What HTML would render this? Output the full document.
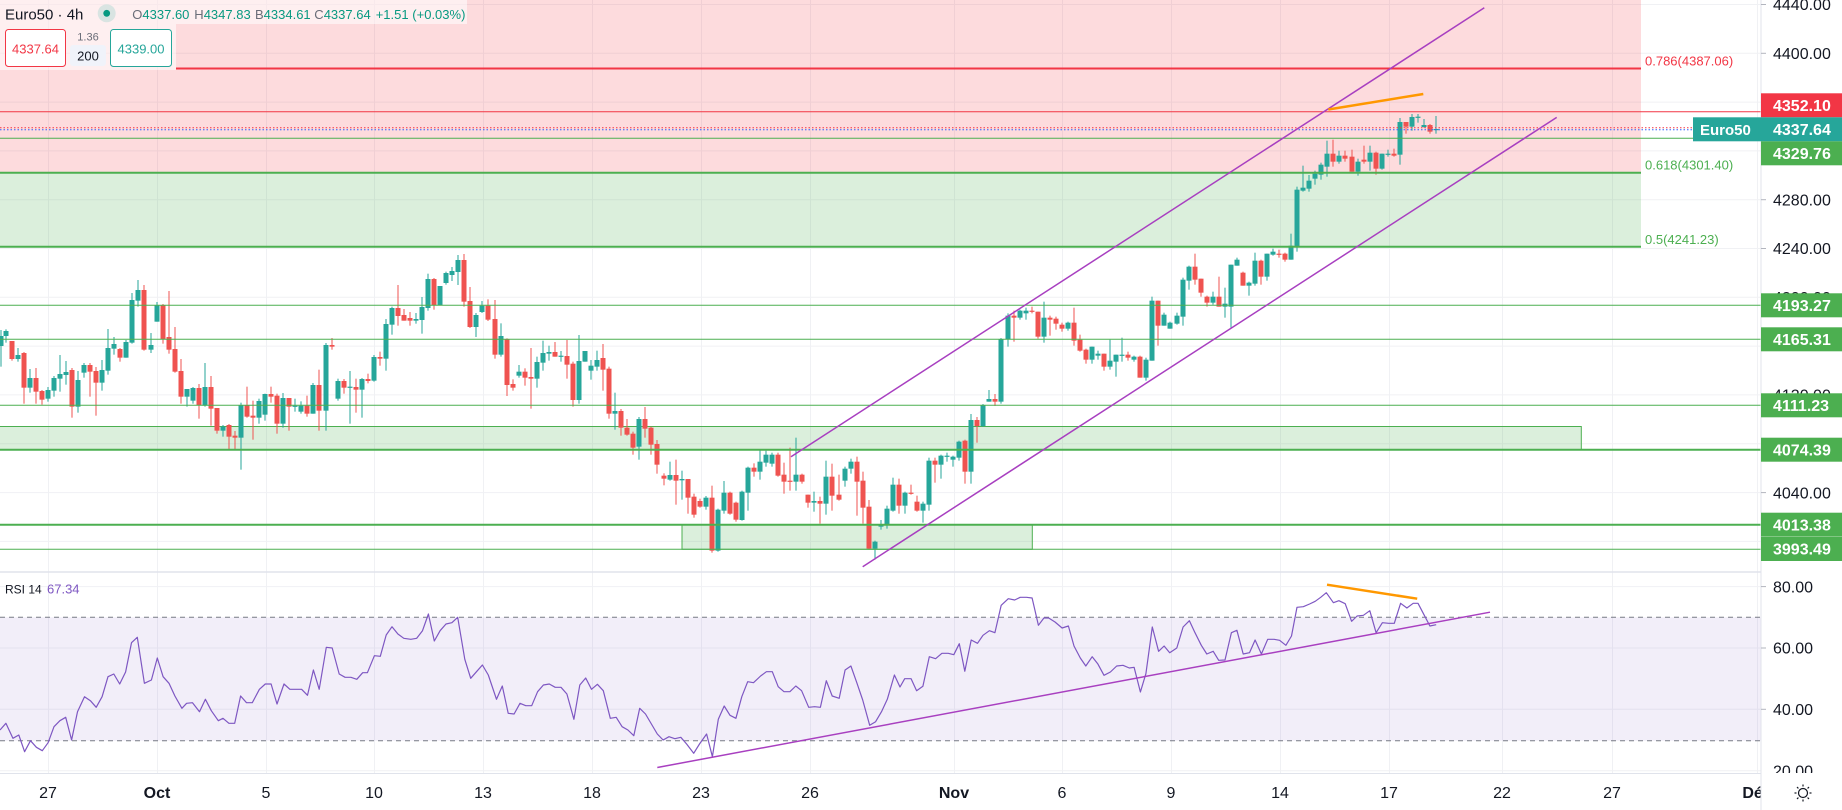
<!DOCTYPE html>
<html><head><meta charset="utf-8">
<style>
html,body{margin:0;padding:0;background:#fff;}
svg{display:block;font-family:"Liberation Sans",sans-serif;}
</style></head>
<body>
<svg id="s" xmlns="http://www.w3.org/2000/svg" width="1842" height="810" viewBox="0 0 1842 810">
<rect x="0" y="0" width="1842" height="810" fill="#ffffff"/>
<g id="grid" stroke="#f0f1f4" stroke-width="1"></g>
<!-- fib zones -->
<rect x="0" y="0" width="1641" height="172.7" fill="rgba(242,54,69,0.18)"/>
<rect x="0" y="172.7" width="1641" height="74" fill="rgba(76,175,80,0.2)"/>
<!-- RSI band -->
<rect x="0" y="617.3" width="1761" height="123.4" fill="rgba(126,87,194,0.1)"/>
<line x1="0" y1="617.3" x2="1761" y2="617.3" stroke="#787b86" stroke-width="1" stroke-dasharray="5,4"/>
<line x1="0" y1="740.7" x2="1761" y2="740.7" stroke="#787b86" stroke-width="1" stroke-dasharray="5,4"/>
<!-- green boxes -->
<rect x="-1" y="426.5" width="1582.3" height="23.2" fill="rgba(76,175,80,0.2)" stroke="#4caf50" stroke-width="1"/>
<rect x="682" y="524.7" width="350.3" height="24.6" fill="rgba(76,175,80,0.2)" stroke="#4caf50" stroke-width="1"/>
<g id="candles"></g>
<!-- horizontal levels -->
<g fill="none">
<line x1="176" y1="68.5" x2="1641" y2="68.5" stroke="#f23645" stroke-width="2"/>
<line x1="0" y1="111.7" x2="1761" y2="111.7" stroke="#f23645" stroke-width="1"/>
<line x1="0" y1="138.3" x2="1761" y2="138.3" stroke="#4caf50" stroke-width="1"/>
<line x1="0" y1="172.7" x2="1641" y2="172.7" stroke="#4caf50" stroke-width="2"/>
<line x1="0" y1="246.7" x2="1641" y2="246.7" stroke="#4caf50" stroke-width="2"/>
<line x1="0" y1="305.3" x2="1761" y2="305.3" stroke="#4caf50" stroke-width="1"/>
<line x1="0" y1="339.3" x2="1761" y2="339.3" stroke="#4caf50" stroke-width="1"/>
<line x1="0" y1="405.3" x2="1761" y2="405.3" stroke="#4caf50" stroke-width="1"/>
<line x1="0" y1="449.7" x2="1761" y2="449.7" stroke="#4caf50" stroke-width="2"/>
<line x1="0" y1="524.7" x2="1761" y2="524.7" stroke="#4caf50" stroke-width="2"/>
<line x1="0" y1="549.3" x2="1761" y2="549.3" stroke="#4caf50" stroke-width="1"/>
<line x1="0" y1="127.7" x2="1693" y2="127.7" stroke="#f23645" stroke-width="1" stroke-dasharray="1.5,2"/>
<line x1="0" y1="129.7" x2="1693" y2="129.7" stroke="#2962ff" stroke-width="1" stroke-dasharray="1.5,2"/>
</g>
<!-- fib labels -->
<g font-size="13">
<text x="1645" y="65.5" fill="#f23645">0.786(4387.06)</text>
<text x="1645" y="169.5" fill="#4caf50">0.618(4301.40)</text>
<text x="1645" y="244" fill="#4caf50">0.5(4241.23)</text>
</g>
<!-- channel -->
<g stroke="#a83fc0" stroke-width="1.5" fill="none">
<line x1="791" y1="456.7" x2="1484.3" y2="7.8"/>
<line x1="862.7" y1="566.7" x2="1556.7" y2="117.4"/>
</g>
<line x1="1328.3" y1="109.5" x2="1423.3" y2="94" stroke="#ff9800" stroke-width="2.5"/>
<!-- RSI -->
<polyline id="rsi" fill="none" stroke="#7e57c2" stroke-width="1.2" stroke-linejoin="round"/>
<line x1="657.3" y1="767.5" x2="1490" y2="612.2" stroke="#a83fc0" stroke-width="1.5"/>
<line x1="1327" y1="584.7" x2="1417.2" y2="598.7" stroke="#ff9800" stroke-width="2.5"/>
<!-- separators -->
<line x1="0" y1="572" x2="1842" y2="572" stroke="#e0e3eb" stroke-width="1.5"/>
<rect x="1761" y="0" width="81" height="810" fill="#ffffff"/>
<rect x="0" y="773.5" width="1761" height="37" fill="#ffffff"/>
<line x1="0" y1="773.5" x2="1761" y2="773.5" stroke="#e0e3eb" stroke-width="1"/>
<line x1="1761" y1="0" x2="1761" y2="810" stroke="#e0e3eb" stroke-width="1"/>
<!-- time labels -->
<g font-size="16" fill="#131722" text-anchor="middle">
<text x="48" y="798">27</text>
<text x="157" y="798" font-weight="bold">Oct</text>
<text x="266" y="798">5</text>
<text x="374" y="798">10</text>
<text x="483" y="798">13</text>
<text x="592" y="798">18</text>
<text x="701" y="798">23</text>
<text x="810" y="798">26</text>
<text x="954" y="798" font-weight="bold">Nov</text>
<text x="1062" y="798">6</text>
<text x="1171" y="798">9</text>
<text x="1280" y="798">14</text>
<text x="1389" y="798">17</text>
<text x="1502" y="798">22</text>
<text x="1612" y="798">27</text>
<text x="1757" y="798" font-weight="bold">Déc</text>
</g>
<rect x="1761.5" y="774" width="80.5" height="36" fill="#ffffff"/>
<line x1="1761" y1="0" x2="1761" y2="810" stroke="#e0e3eb" stroke-width="1"/>
<!-- price axis ticks -->
<g id="ptick" font-size="16" fill="#131722"></g>
<!-- RSI axis labels -->
<clipPath id="rc"><rect x="1761" y="573" width="81" height="200"/></clipPath>
<g font-size="16" fill="#131722" clip-path="url(#rc)">
<text x="1773" y="592.3">80.00</text>
<text x="1773" y="653.7">60.00</text>
<text x="1773" y="715">40.00</text>
<text x="1773" y="776.4">20.00</text>
</g>
<g stroke="#b2b5be" stroke-width="1">
<line x1="1761" y1="586.6" x2="1766" y2="586.6"/>
<line x1="1761" y1="648" x2="1766" y2="648"/>
<line x1="1761" y1="709.3" x2="1766" y2="709.3"/>
</g>
<!-- price boxes -->
<g font-size="16" font-weight="bold" fill="#ffffff">
<rect x="1761" y="93.3" width="81" height="24" fill="#f23645"/><text x="1773" y="111">4352.10</text>
<rect x="1761" y="117.3" width="81" height="24" fill="#26a69a"/><text x="1773" y="135">4337.64</text>
<rect x="1693" y="117.3" width="68" height="24" fill="#26a69a"/><text x="1700" y="135" font-size="15">Euro50</text>
<rect x="1761" y="141.3" width="81" height="24" fill="#4caf50"/><text x="1773" y="159">4329.76</text>
<rect x="1761" y="293.3" width="81" height="24" fill="#4caf50"/><text x="1773" y="311">4193.27</text>
<rect x="1761" y="327.3" width="81" height="24" fill="#4caf50"/><text x="1773" y="345">4165.31</text>
<rect x="1761" y="393.3" width="81" height="24" fill="#4caf50"/><text x="1773" y="411">4111.23</text>
<rect x="1761" y="437.7" width="81" height="24" fill="#4caf50"/><text x="1773" y="455.4">4074.39</text>
<rect x="1761" y="512.7" width="81" height="24" fill="#4caf50"/><text x="1773" y="530.4">4013.38</text>
<rect x="1761" y="537" width="81" height="24" fill="#4caf50"/><text x="1773" y="554.7">3993.49</text>
</g>
<!-- settings icon -->
<g stroke="#131722" stroke-width="1.2" fill="none">
<circle cx="1803" cy="793" r="4.5"/>
<line x1="1803" y1="784.5" x2="1803" y2="786.5"/><line x1="1803" y1="799.5" x2="1803" y2="801.5"/>
<line x1="1794.5" y1="793" x2="1796.5" y2="793"/><line x1="1809.5" y1="793" x2="1811.5" y2="793"/>
<line x1="1797" y1="787" x2="1798.4" y2="788.4"/><line x1="1807.6" y1="797.6" x2="1809" y2="799"/>
<line x1="1809" y1="787" x2="1807.6" y2="788.4"/><line x1="1798.4" y1="797.6" x2="1797" y2="799"/>
</g>
<!-- legend -->
<rect x="0" y="0" width="467" height="24" fill="rgba(255,255,255,0.55)"/>
<rect x="0" y="24" width="176" height="46" fill="rgba(255,255,255,0.55)"/>
<text x="5" y="19.3" font-size="15" fill="#131722">Euro50 · 4h</text>
<circle cx="106.7" cy="13.3" r="9" fill="#d9e4e2"/>
<circle cx="106.7" cy="13.3" r="3.4" fill="#089981"/>
<g font-size="13" fill="#089981">
<text x="132.3" y="18.8"><tspan fill="#6a6d78">O</tspan>4337.60</text>
<text x="194.3" y="18.8"><tspan fill="#6a6d78">H</tspan>4347.83</text>
<text x="255" y="18.8"><tspan fill="#6a6d78">B</tspan>4334.61</text>
<text x="314.3" y="18.8"><tspan fill="#6a6d78">C</tspan>4337.64</text>
<text x="375.7" y="18.8">+1.51</text>
<text x="412.3" y="18.8">(+0.03%)</text>
</g>
<rect x="5.5" y="29.5" width="60" height="37" rx="3" fill="#ffffff" stroke="#f23645" stroke-width="1"/>
<text x="35.5" y="53.5" font-size="13" fill="#f23645" text-anchor="middle">4337.64</text>
<text x="88" y="40.5" font-size="11" fill="#6a6d78" text-anchor="middle">1.36</text>
<rect x="70" y="45" width="36" height="21" rx="3" fill="#f0f3fa"/>
<text x="88" y="60.3" font-size="13" fill="#131722" text-anchor="middle">200</text>
<rect x="110.5" y="29.5" width="61" height="37" rx="3" fill="#ffffff" stroke="#26a69a" stroke-width="1"/>
<text x="141" y="53.5" font-size="13" fill="#26a69a" text-anchor="middle">4339.00</text>
<text x="5" y="593.5" font-size="12" fill="#131722">RSI 14</text>
<text x="47" y="593.5" font-size="13" fill="#7e57c2">67.34</text>
</svg>
<script>
(function(){
var NS='http://www.w3.org/2000/svg';
function add(p,t,a){var e=document.createElementNS(NS,t);for(var k in a)e.setAttribute(k,a[k]);p.appendChild(e);return e;}
// grid
var g=document.getElementById('grid');
var vx=[48,157,266,374,483,592,701,810,954,1062,1171,1280,1389,1502,1612,1757];
vx.forEach(function(x){add(g,'line',{x1:x+0.5,y1:0,x2:x+0.5,y2:773});});
var hy=[4.5,53.3,102.1,150.9,199.7,248.5,297.3,346.1,394.9,443.8,492.6,541.4];
hy.forEach(function(y){add(g,'line',{x1:0,y1:y,x2:1761,y2:y});});
[586.6,648,709.3,770.7].forEach(function(y){add(g,'line',{x1:0,y1:y,x2:1761,y2:y});});
// price tick labels (hidden ones omitted)
var pt=document.getElementById('ptick');
var pv=['4440.00','4400.00','','','4280.00','4240.00','4200.00','','4120.00','4080.00','4040.00',''];
hy.forEach(function(y,i){
 add(pt,'line',{x1:1761,y1:y,x2:1766,y2:y,stroke:'#b2b5be','stroke-width':1});
 if(pv[i]){var t=add(pt,'text',{x:1773,y:(y+5.7).toFixed(1)});t.textContent=pv[i];}
});
// candles
var Z5=[[3,1,288,318,270,380],[19,1,273,288,268,308],[37,0,303,357,303,362],[55,1,345,357,324,365],[73,0,339,443,336,491],[91,1,414,443,387,458],[109,0,414,455,384,491],[127,0,453,479,450,494],[145,1,450,476,441,485],[163,1,414,452,408,470],[181,1,402,416,345,455],[199,1,396,405,363,434],[217,0,390,500,384,533],[235,1,420,500,393,518],[253,1,375,398,369,413],[271,0,375,395,369,470],[289,0,393,428,381,527],[307,1,390,428,360,452],[325,1,324,392,267,404],[343,1,312,326,291,344],[361,0,327,353,324,365],[379,1,306,353,300,353],[397,1,180,308,159,311],[415,1,150,182,120,200],[433,0,150,329,135,332],[454,1,315,329,279,339],[472,1,195,245,186,245],[490,0,196,297,192,311],[508,0,291,329,153,341],[526,0,327,395,261,398],[544,0,393,470,357,491],[562,1,447,470,447,500],[580,1,444,482,441,491],[598,0,444,495,432,536],[616,1,441,497,369,500],[634,0,441,506,408,557],[652,0,504,572,504,581],[670,1,560,572,555,590],[688,0,555,590,552,628],[706,0,587,593,573,631],[724,1,495,593,488,689],[742,0,495,530,440,533],[760,0,527,533,482,599],[778,1,483,533,476,551],[796,1,462,524,461,542],[814,0,462,470,440,488],[832,0,467,551,461,581],[850,1,474,551,459,563],[868,0,474,500,474,572],[886,1,497,500,476,515],[904,1,497,515,484,521],[922,0,497,521,467,530],[940,1,435,521,429,521],[958,0,435,512,389,572],[979,1,315,512,309,572],[997,0,315,320,294,329],[1015,1,423,476,416,482],[1033,0,423,443,417,461],[1051,1,440,443,393,551],[1069,0,441,449,416,518],[1087,1,417,449,414,533],[1105,0,417,423,401,430],[1123,1,351,422,345,425],[1141,0,351,356,335,377],[1159,1,252,356,237,392],[1177,1,204,254,200,284],[1195,0,204,228,135,257],[1213,0,225,242,207,242],[1231,0,234,242,216,257],[1249,1,237,242,219,251],[1267,1,201,240,171,281],[1285,1,117,204,101,212],[1303,0,117,195,114,209],[1321,1,138,195,138,195],[1339,1,99,129,95,134],[1357,1,93,105,81,123],[1375,1,60,96,45,135],[1393,0,60,185,42,200],[1411,0,183,261,141,264],[1429,1,225,261,219,291]];
var Z10=[[127,1,167,186,153,189],[145,0,167,209,148,213]];
var Z6=[[105,0,-3,104,-60,116],[123,1,48,104,10,110],[141,0,57,195,55,228],[159,0,192,203,178,212],[177,1,155,167,135,173],[195,0,155,173,145,197],[213,0,171,176,84,266],[231,1,126,176,110,203],[249,1,99,128,62,152],[267,1,96,101,77,122],[285,0,96,110,66,110],[303,1,107,110,93,125],[321,0,108,134,60,176],[339,0,131,240,125,260],[357,1,123,240,45,251],[375,1,93,125,93,125],[393,1,137,152,120,179],[411,1,120,140,92,152],[429,0,114,149,72,212],[447,0,146,281,140,296],[465,1,273,281,218,329],[483,0,273,323,267,347],[501,0,323,344,297,347],[519,0,341,383,335,404],[537,1,297,380,291,419],[555,0,297,326,261,353],[573,0,323,374,320,404],[591,0,372,434,360,461],[612,0,467,476,460,496],[630,1,465,479,425,482],[648,0,465,482,419,554],[666,1,477,481,452,539],[684,0,477,533,477,581],[702,0,530,584,521,593],[720,0,543,560,536,563],[738,1,533,560,528,569],[756,0,533,692,497,698],[774,1,569,692,566,695],[792,1,518,572,483,581],[810,0,518,581,515,584],[828,0,548,599,545,605],[846,1,515,600,512,602],[864,1,443,518,440,572],[882,0,443,455,430,470],[900,1,425,455,389,479],[918,1,404,428,392,440],[936,1,404,431,398,440],[954,0,404,467,398,470],[972,0,464,485,428,521],[990,0,482,485,383,512],[1008,1,464,485,353,512],[1026,0,464,485,461,491],[1044,0,524,548,524,563],[1062,1,543,548,515,575],[1080,0,543,551,530,611],[1098,1,470,551,422,584],[1116,0,470,527,431,572],[1137,0,524,539,464,542],[1155,1,446,482,440,500],[1173,1,425,446,416,461],[1191,0,425,485,410,587],[1209,0,482,563,455,611],[1227,0,560,686,540,689],[1245,1,665,686,662,719],[1263,1,614,620,600,629],[1281,1,566,614,557,626],[1299,1,494,572,473,575],[1317,0,494,557,476,581],[1335,1,518,557,515,581],[1353,0,518,521,494,524],[1371,0,545,572,527,575],[1389,1,551,572,545,608],[1407,1,422,554,413,572],[1425,0,422,434,413,488],[1443,1,407,434,404,476],[1461,1,407,410,398,425],[1479,1,410,419,407,440],[1497,1,365,413,362,422],[1515,0,362,455,359,491],[1533,1,300,455,282,491],[1551,0,300,318,291,368]];
var Z7=[[130,1,915,978,912,981],[147,1,897,905,870,905],[165,0,897,905,882,918],[184,1,717,905,714,911],[204,1,647,717,640,740],[222,0,647,653,632,725],[240,1,632,653,629,659],[258,1,632,640,623,659],[276,0,632,635,620,640],[294,0,635,710,635,716],[312,1,653,710,605,728],[330,0,653,659,647,707],[348,0,656,671,650,689],[366,0,674,686,668,695],[384,1,668,686,665,692],[402,0,668,722,623,737],[420,0,719,752,704,755],[438,0,749,779,746,791],[456,1,740,779,740,791],[474,1,761,767,752,779],[492,0,761,800,761,812],[510,1,782,800,719,809],[528,1,764,785,764,830],[546,1,764,767,713,785],[564,0,764,773,755,782],[582,1,770,779,767,785],[600,0,770,833,767,833],[618,1,779,833,773,842],[636,1,602,782,590,782],[654,0,602,677,602,737],[672,1,644,677,638,677],[690,1,668,686,665,686],[712,1,647,671,638,674],[730,1,539,650,533,677],[748,1,500,542,497,569],[766,0,500,539,461,554],[784,0,536,578,536,590],[802,0,590,608,587,620],[820,1,590,608,575,614],[838,0,590,620,530,620],[856,1,611,620,563,653],[874,1,494,620,494,683],[892,1,479,497,473,497],[910,0,518,557,515,557],[928,1,548,557,545,587],[946,1,482,551,458,557],[964,0,482,530,479,554],[982,1,461,530,461,542],[1000,1,455,464,446,467],[1018,0,461,464,449,473],[1036,0,461,479,458,485],[1054,1,437,479,401,479],[1072,1,269,440,260,455],[1090,1,263,272,197,275],[1108,1,242,266,225,275],[1126,1,221,236,212,254],[1144,1,194,224,188,239],[1162,1,161,200,122,230],[1180,0,161,185,119,200],[1198,1,167,185,152,191],[1216,0,167,176,152,185],[1237,0,170,215,149,215],[1255,1,185,215,176,227],[1273,0,179,185,137,191],[1291,1,158,185,137,212],[1309,0,158,206,155,224],[1327,1,161,206,161,209],[1345,1,161,164,149,170],[1363,0,161,167,146,170],[1381,1,66,164,54,194],[1399,0,66,80,66,101],[1417,1,51,80,42,92],[1435,1,50,53,42,68],[1453,1,75,81,57,83],[1471,0,75,95,72,101],[1489,1,87,89,48,101]];
var cl=document.getElementById('candles');
[[0,240,Z5],[440,250,Z10],[460,320,Z6],[940,100,Z7]].forEach(function(s){
 var ox=s[0],oy=s[1];
 s[2].forEach(function(c){
  var x=Math.round(ox+c[0]/3);
  var bt=oy+c[2]/3,bb=oy+c[3]/3,wt=oy+c[4]/3,wb=oy+c[5]/3;
  var col=c[1]?'#26a69a':'#ef5350';
  add(cl,'rect',{x:x-0.5,y:wt.toFixed(2),width:1,height:Math.max(wb-wt,1).toFixed(2),fill:col});
  add(cl,'rect',{x:x-2.5,y:bt.toFixed(2),width:5,height:Math.max(bb-bt,1.2).toFixed(2),fill:col});
 });
});
// RSI
var R8=[[0,510],[10,490],[22,535],[32,525],[42,575],[52,542],[62,562],[72,572],[82,548],[92,500],[102,482],[112,472],[122,540],[132,455],[144,410],[154,422],[164,442],[174,410],[184,350],[194,342],[204,372],[214,336],[224,248],[234,232],[246,370],[258,360],[268,294],[278,350],[288,370],[298,408],[310,445],[318,430],[328,428],[340,455],[350,418],[360,452],[372,482],[380,475],[390,490],[400,490],[410,408],[420,428],[430,428],[442,388],[452,372],[462,372],[472,432],[484,372],[494,388],[504,388],[514,388],[524,406],[534,330],[544,388],[556,262],[566,264],[578,342],[588,352],[598,352],[608,358],[618,338],[626,338],[638,287],[648,289],[658,225],[668,200],[678,222],[688,235],[700,238],[710,235],[720,212],[730,162],[740,243],[750,212],[760,192],[770,188],[780,172],[792,298],[802,355],[812,335],[822,315],[832,345],[846,418],[856,378],[866,460],[876,462],[886,430],[896,437],[906,437],[916,395],[926,375],[936,372],[946,382],[956,382],[966,402],[978,478],[988,375],[998,354],[1008,388],[1018,373],[1028,392],[1040,475],[1050,472],[1060,500],[1070,510],[1080,527],[1090,445],[1100,462],[1110,492],[1120,522],[1130,540],[1140,530],[1150,536],[1160,532],[1170,552],[1182,580],[1192,552],[1204,522],[1214,590],[1224,478],[1234,438],[1244,466],[1254,475],[1264,410],[1274,365],[1284,368],[1296,348],[1306,335],[1316,335],[1326,380],[1336,395],[1346,395],[1356,378],[1366,392],[1378,442],[1388,440],[1398,442],[1408,362],[1418,408],[1430,415],[1440,330],[1450,318],[1460,368],[1470,420],[1482,496],[1492,485],[1502,455],[1512,418],[1524,345]];
var R9=[[0,345],[12,320],[28,320],[42,356],[58,343],[74,254],[90,260],[106,244],[122,244],[136,248],[150,215],[164,298],[180,204],[196,214],[210,190],[226,176],[240,182],[256,100],[274,80],[290,84],[304,76],[320,76],[334,78],[350,160],[364,138],[376,138],[392,150],[410,168],[426,162],[440,222],[456,258],[470,282],[486,254],[500,275],[516,310],[532,300],[548,282],[564,280],[580,288],[592,286],[608,360],[622,305],[638,165],[654,238],[668,222],[682,242],[700,228],[716,165],[732,146],[746,182],[762,220],[776,246],[792,238],[806,265],[822,264],[838,182],[852,175],[868,246],[884,242],[898,204],[914,246],[930,202],[946,202],[960,205],[976,220],[990,192],[1004,106],[1020,104],[1036,96],[1050,88],[1064,76],[1078,62],[1096,92],[1110,86],[1126,95],[1142,148],[1156,132],[1172,130],[1188,116],[1204,182],[1220,152],[1236,154],[1250,154],[1266,94],[1282,108],[1298,94],[1310,94],[1326,130],[1340,162],[1356,158]];
var pts=[];
R8.forEach(function(p){pts.push((p[0]/1.704).toFixed(1)+','+(560+p[1]/3).toFixed(1));});
R9.forEach(function(p){pts.push((900+p[0]/2.529).toFixed(1)+','+(572+p[1]/3).toFixed(1));});
document.getElementById('rsi').setAttribute('points',pts.join(' '));
})();
</script>
</body></html>
